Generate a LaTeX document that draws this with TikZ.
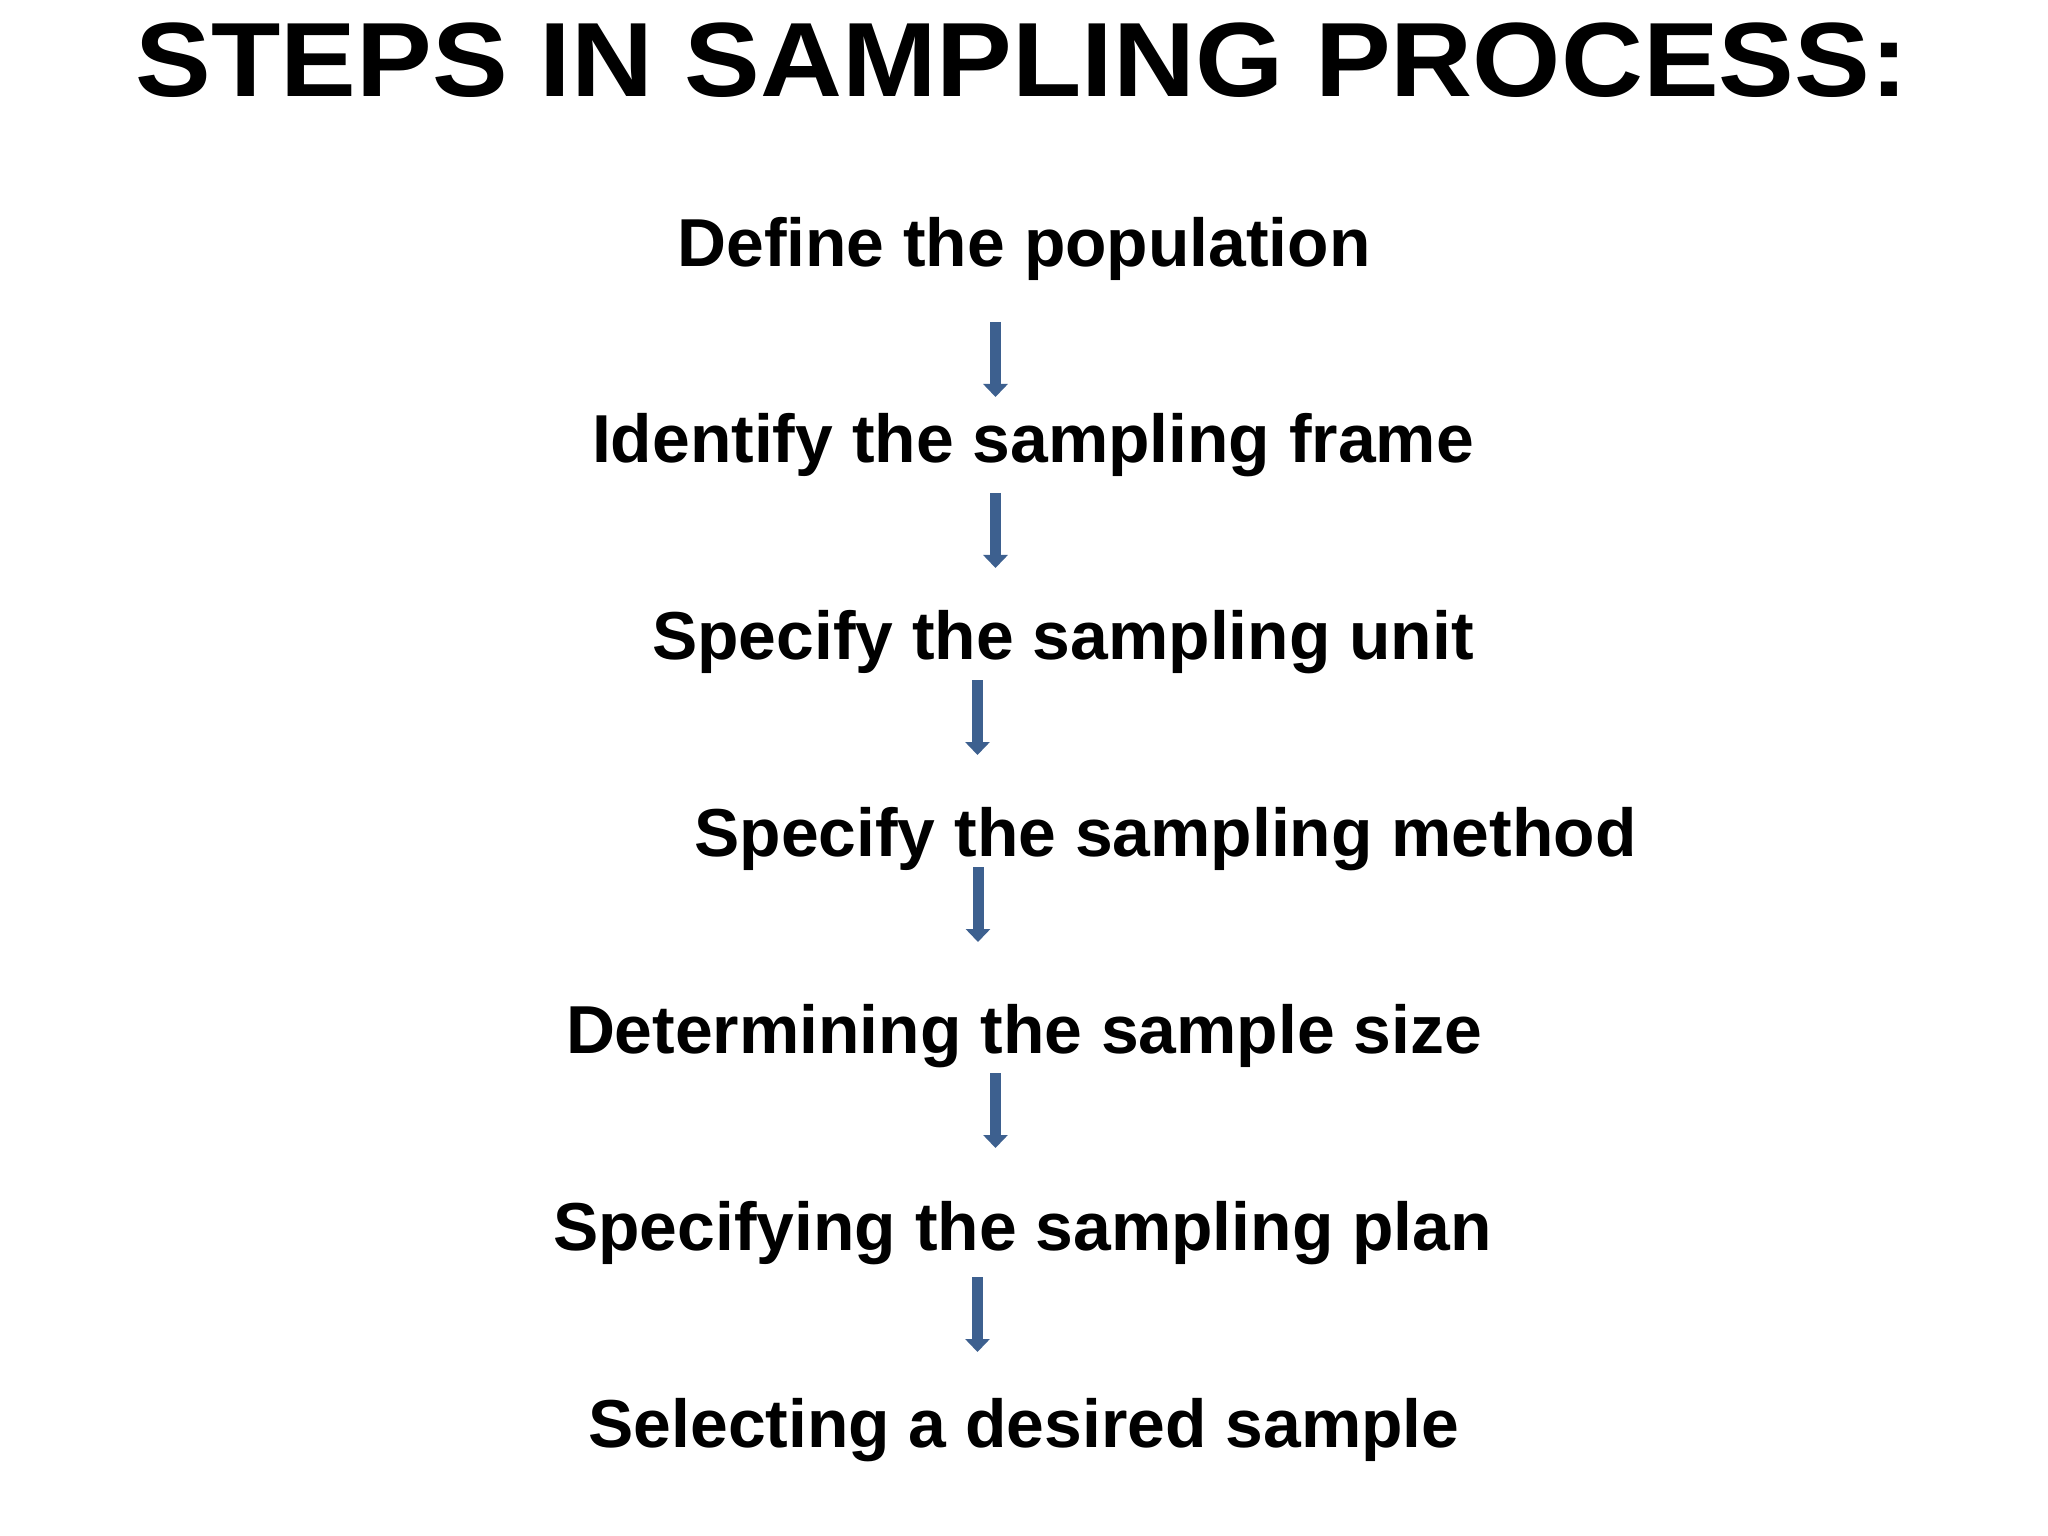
\documentclass[tikz,border=0pt]{standalone}
\usepackage{fontspec}
\setmainfont{Liberation Sans}
\usetikzlibrary{arrows.meta, positioning}
\definecolor{arrowblue}{RGB}{61,96,143}

\begin{document}
\begin{tikzpicture}[
    title/.style={font=\fontsize{32.3pt}{38pt}\selectfont\bfseries, anchor=base, inner sep=0},
    stepnode/.style={font=\fontsize{19.3pt}{23pt}\selectfont\bfseries, anchor=base, inner sep=0},
    arrow/.style={arrowblue, line width=1.1mm, -{Triangle[length=1.3mm, width=2.4mm]}}
]
    \useasboundingbox (0,0) rectangle (20.48,-15.36);

    % Title
    \node[title] (head) at (10.22,-0.97) {\scalebox{1}[0.93]{STEPS IN SAMPLING PROCESS:}};

    % Steps
    \node[stepnode] (d1) at (10.24,-2.67) {Define the population};
    \node[stepnode] (d2) at (10.33,-4.63) {Identify the sampling frame};
    \node[stepnode] (d3) at (10.63,-6.60) {Specify the sampling unit};
    \node[stepnode] (d4) at (11.655,-8.56) {Specify the sampling method};
    \node[stepnode] (d5) at (10.24,-10.53) {Determining the sample size};
    \node[stepnode] (d6) at (10.225,-12.50) {Specifying the sampling plan};
    \node[stepnode] (d7) at (10.24,-14.47) {Selecting a desired sample};

    % Arrows between steps
    \draw[arrow] ([xshift=-2.85mm, yshift=-5.5mm]d1.base) -- ++(0,-7.5mm);
    \draw[arrow] ([xshift=-3.75mm, yshift=-3.0mm]d2.base) -- ++(0,-7.5mm);
    \draw[arrow] ([xshift=-8.55mm, yshift=-2.0mm]d3.base) -- ++(0,-7.5mm);
    \draw[arrow] ([xshift=-18.75mm, yshift=-1.1mm]d4.base) -- ++(0,-7.5mm);
    \draw[arrow] ([xshift=-2.85mm, yshift=-2.0mm]d5.base) -- ++(0,-7.5mm);
    \draw[arrow] ([xshift=-4.5mm, yshift=-2.7mm]d6.base) -- ++(0,-7.5mm);
\end{tikzpicture}
\end{document}
